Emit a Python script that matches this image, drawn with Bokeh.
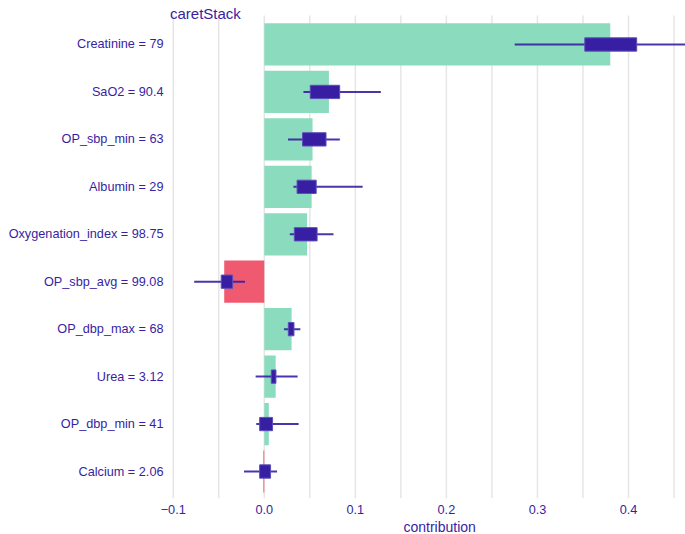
from bokeh.plotting import figure
from bokeh.models import Range1d, FixedTicker, Label, Title, ColumnDataSource
from bokeh.embed import file_html
from bokeh.resources import INLINE

# ---- data ----
variables = ["Creatinine = 79", "SaO2 = 90.4", "OP_sbp_min = 63", "Albumin = 29",
             "Oxygenation_index = 98.75", "OP_sbp_avg = 99.08", "OP_dbp_max = 68",
             "Urea = 3.12", "OP_dbp_min = 41", "Calcium = 2.06"]
contribution = [0.380, 0.071, 0.053, 0.052, 0.047, -0.044, 0.030, 0.0125, 0.005, -0.001]
whisker_min = [0.275, 0.043, 0.026, 0.032, 0.028, -0.077, 0.0216, -0.0095, -0.0088, -0.0223]
box_q1 = [0.352, 0.0505, 0.042, 0.036, 0.033, -0.0473, 0.0264, 0.0077, -0.0051, -0.0051]
box_q3 = [0.409, 0.0828, 0.0678, 0.057, 0.058, -0.0348, 0.0326, 0.0128, 0.0091, 0.0069]
whisker_max = [0.47, 0.128, 0.083, 0.108, 0.076, -0.0212, 0.0396, 0.0366, 0.0377, 0.014]
x_ticks = [-0.1, 0.0, 0.1, 0.2, 0.3, 0.4]
x_tick_labels = ["\u22120.1", "0.0", "0.1", "0.2", "0.3", "0.4"]
x_minor_ticks = [-0.05, 0.05, 0.15, 0.25, 0.35, 0.45]
title_text = "caretStack"
x_label = "contribution"

TEXT = "#371ea3"
POS = "#8bdcbe"
NEG = "#f05a71"
FONT = "Liberation Sans"

n = len(variables)
ypos = [n - i for i in range(n)]
colors = [POS if c >= 0 else NEG for c in contribution]
Y_LO, Y_HI = 0.431, 10.611          # panel extent in row units
grid_x = sorted(x_ticks + x_minor_ticks)

src = ColumnDataSource(dict(y=ypos, contribution=contribution, color=colors,
                            wmin=whisker_min, wmax=whisker_max, q1=box_q1, q3=box_q3))
grid_src = ColumnDataSource(dict(x=grid_x, y0=[Y_LO] * len(grid_x), y1=[Y_HI] * len(grid_x)))

W, H = 685, 534
BL, BB = 167, 36
FRAME_H = H - BB

p = figure(width=W, height=H, output_backend="svg", toolbar_location=None,
           x_range=Range1d(-0.1063, 0.4626), y_range=Range1d(Y_LO, 10.927),
           min_border_left=BL, min_border_right=0, min_border_top=0, min_border_bottom=BB)
p.outline_line_color = None
p.xgrid.grid_line_color = None
p.ygrid.grid_line_color = None

# vertical grid lines limited to the panel
p.segment(x0="x", y0="y0", x1="x", y1="y1", line_color="#e6e6e6", line_width=1.5,
          source=grid_src)

p.hbar(y="y", left=0, right="contribution", height=0.89, fill_color="color",
       line_color=None, source=src)
p.segment(x0="wmin", y0="y", x1="wmax", y1="y", line_color=TEXT, line_width=2,
          line_alpha=0.9, source=src)
p.hbar(y="y", left="q1", right="q3", height=0.28, fill_color=TEXT,
       line_color="#5d4db8", line_width=1, source=src)

# axes
p.xaxis.ticker = FixedTicker(ticks=x_ticks)
p.xaxis.major_label_overrides = dict(zip(x_ticks, x_tick_labels))
p.yaxis.ticker = FixedTicker(ticks=ypos)
p.yaxis.major_label_overrides = dict(zip(ypos, variables))
for ax in (p.xaxis, p.yaxis):
    ax.axis_line_color = None
    ax.major_tick_line_color = None
    ax.minor_tick_line_color = None
    ax.major_tick_out = 0
    ax.major_tick_in = 0
    ax.minor_tick_out = 0
    ax.major_label_text_color = TEXT
    ax.major_label_text_font = FONT
    ax.major_label_text_font_size = "12.7px"
p.xaxis.major_label_standoff = 6
p.yaxis.major_label_standoff = 4

# chart title inside the (extended) frame, above the panel
p.add_layout(Label(x=2.5, y=FRAME_H - 13.3, x_units="screen", y_units="screen",
                   text=title_text, text_font=FONT, text_font_size="15px",
                   text_color=TEXT, text_baseline="alphabetic", text_align="left"))

# x axis title below
p.add_layout(Title(text=x_label, align="left", offset=236, text_font=FONT,
                   text_font_size="14px", text_font_style="normal",
                   text_color=TEXT, standoff=0), "below")

open("out.html", "w").write(file_html(p, INLINE))
